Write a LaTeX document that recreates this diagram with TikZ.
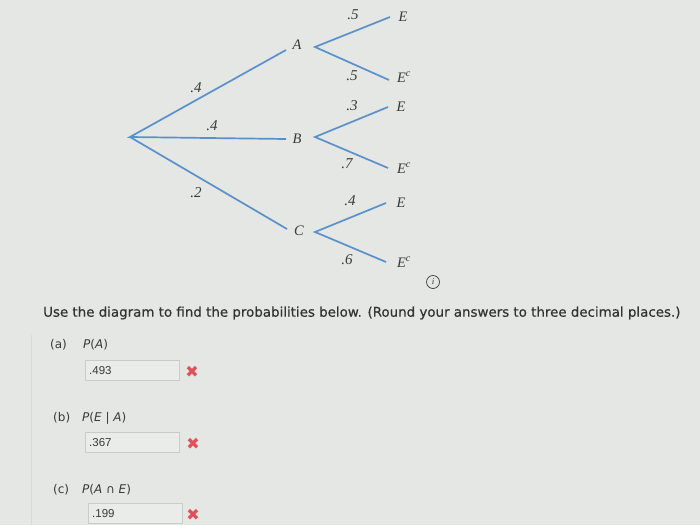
\documentclass[tikz,border=0pt]{standalone}
\usepackage{fontspec}
\setmainfont{Liberation Serif}
\newfontfamily\uisans[FakeBold=0.5]{DejaVu Sans}
\newfontfamily\partsans{DejaVu Sans}
\newfontfamily\boxsans{Liberation Sans}
\newfontfamily\symfont{DejaVu Sans}
\definecolor{bg}{HTML}{E4E7E3}
\definecolor{branch}{HTML}{5A90CC}
\definecolor{ink}{HTML}{3A3A3A}
\definecolor{boxfill}{HTML}{E9ECE8}
\definecolor{boxline}{HTML}{C9CCC8}
\definecolor{xred}{HTML}{E0505A}
\begin{document}
\begin{tikzpicture}[x=1pt,y=-1pt,
  br/.style={draw=branch,line width=1.7pt},
  ev/.style={font=\itshape\fontsize{14.5}{14.5}\selectfont,text=ink,inner sep=1pt},
  pr/.style={font=\itshape\fontsize{15}{15}\selectfont,text=ink,inner sep=1pt},
  q/.style={font=\uisans\fontsize{13.4}{13}\selectfont,text=black!80,anchor=west,inner sep=0pt},
  part/.style={font=\partsans\fontsize{12}{12}\selectfont,text=ink,anchor=west,inner sep=0pt},
  ans/.style={draw=boxline,fill=boxfill,minimum width=94pt,minimum height=20pt,anchor=north west,
    font=\boxsans\fontsize{11.5}{11.5}\selectfont,text=ink,align=left,text width=86pt,inner sep=3pt},
  wrong/.style={font=\symfont\bfseries\fontsize{16}{16}\selectfont,text=xred,inner sep=0pt}]
\fill[bg] (0,0) rectangle (700,525);
\useasboundingbox (0,0) rectangle (700,525);
\draw[black!15,line width=0.6pt] (31,335) -- (31,525);
% tree
\coordinate (root) at (130,137);
\node[ev] (A) at (297,45) {A};
\node[ev] (B) at (297,139) {B};
\node[ev] (C) at (299,231) {C};
\node[ev] (AE) at (403,17) {E};
\node[ev] (AEc) at (404,77) {E\textsuperscript{c}};
\node[ev] (BE) at (401,107) {E};
\node[ev] (BEc) at (404,168) {E\textsuperscript{c}};
\node[ev] (CE) at (401,203) {E};
\node[ev] (CEc) at (404,262) {E\textsuperscript{c}};
\coordinate (Aend) at (286,50);
\coordinate (Bend) at (286,139);
\coordinate (Cend) at (287,229);
\coordinate (As) at (315,47);
\coordinate (Bs) at (315,137);
\coordinate (Cs) at (315,232);
\coordinate (AEt) at (390,17);
\coordinate (AEct) at (389,80);
\coordinate (BEt) at (388,107);
\coordinate (BEct) at (388,168);
\coordinate (CEt) at (386,203);
\coordinate (CEct) at (386,262);
\draw[br] (Aend) -- (root) -- (Bend);
\draw[br] (root) -- (Cend);
\draw[br] (AEt) -- (As) -- (AEct);
\draw[br] (BEt) -- (Bs) -- (BEct);
\draw[br] (CEt) -- (Cs) -- (CEct);
\node[pr] (p1) at (196,88) {.4};
\node[pr] (p2) at (212,126) {.4};
\node[pr] (p3) at (196,193) {.2};
\node[pr] (p4) at (353,15) {.5};
\node[pr] (p5) at (352,76) {.5};
\node[pr] (p6) at (352,106) {.3};
\node[pr] (p7) at (347,164) {.7};
\node[pr] (p8) at (350,201) {.4};
\node[pr] (p9) at (347,260) {.6};
\node[circle,draw=ink,line width=0.7pt,inner sep=0pt,minimum size=13pt,font=\itshape\fontsize{9}{9}\selectfont,text=ink] (info) at (433,282) {i};
% question
\node[q] (qt) at (43,313) {Use the diagram to find the probabilities below. (Round your answers to three decimal places.)};
\node[part] (la) at (50,345) {(a)};
\node[part] (fa) at (83,345) {\textit{P}(\textit{A})};
\node[ans] (ba) at (85,360) {.493};
\node[wrong] (xa) at (192,372) {✖};
\node[part] (lb) at (53,418) {(b)};
\node[part] (fb) at (82,418) {\textit{P}(\textit{E} | \textit{A})};
\node[ans] (bb) at (85,432) {.367};
\node[wrong] (xb) at (193,444) {✖};
\node[part] (lc) at (53,490) {(c)};
\node[part] (fc) at (82,490) {\textit{P}(\textit{A} ∩ \textit{E})};
\node[ans] (bc) at (88,503) {.199};
\node[wrong] (xc) at (193,515) {✖};
\end{tikzpicture}
\end{document}
